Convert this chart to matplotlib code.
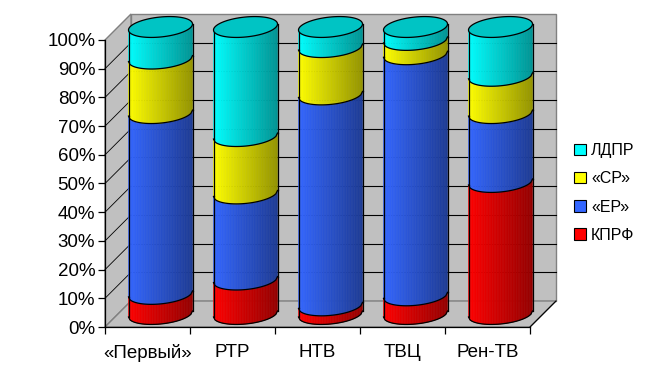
import numpy as np
import matplotlib
matplotlib.use('Agg')
import matplotlib.pyplot as plt
from matplotlib.collections import PolyCollection
from matplotlib.patches import Polygon, Patch
from matplotlib.colors import to_rgb

plt.rcParams['font.family'] = ['Liberation Sans', 'DejaVu Sans']

# data (shares in %)
channels = ['«Первый»', 'РТР', 'НТВ', 'ТВЦ', 'Рен-ТВ']
kprf = [7, 12, 3, 6.5, 46]
er = [63, 30, 73.5, 84, 24]
sr = [19, 20, 16.5, 5, 13]
ldpr = [11, 38, 7, 4.5, 17]

series_names = ['КПРФ', '«ЕР»', '«СР»', 'ЛДПР']
series_colors = ['#FF0000', '#3366FF', '#FFFF00', '#00FFFF']
cap_color = '#00C4C4'
yticks = list(range(0, 101, 10))

# geometry of the fake 3D box (data units)
DX = 26 / 85.0      # depth offset in category units
DY = 26 / 2.87      # depth offset in percent units
A = 32 / 85.0       # cylinder half width
B = 10 / 2.87       # ellipse half height
S = 3 / 2.87        # ellipse tilt
NSTRIP = 40

fig = plt.figure(figsize=(6.5, 3.82), dpi=100)
ax = fig.add_axes([105 / 650, 55 / 382, 425 / 650, 287 / 382])
ax.set_xlim(-0.5, 4.5)
ax.set_ylim(0, 100)
ax.patch.set_visible(False)

x0, x1 = -0.5, len(channels) - 0.5
wall = '#C0C0C0'
edge = '#808080'

# walls and floor
ax.add_patch(Polygon([(x0 + DX, DY), (x1 + DX, DY), (x1 + DX, 100 + DY), (x0 + DX, 100 + DY)],
                     closed=True, fc=wall, ec=edge, lw=1, clip_on=False, zorder=0.5))
ax.add_patch(Polygon([(x0, 0), (x0 + DX, DY), (x0 + DX, 100 + DY), (x0, 100)],
                     closed=True, fc=wall, ec=edge, lw=1, clip_on=False, zorder=0.5))
ax.add_patch(Polygon([(x0, 0), (x1, 0), (x1 + DX, DY), (x0 + DX, DY)],
                     closed=True, fc=wall, ec=edge, lw=1, clip_on=False, zorder=0.5))
ax.plot([x1, x1 + DX], [0, DY], color='black', lw=0.8, clip_on=False, zorder=0.7)

# gridlines on back wall + diagonals on side wall
for v in yticks[1:-1]:
    ax.plot([x0 + DX, x1 + DX], [v + DY, v + DY], color='black', lw=0.8, clip_on=False, zorder=0.6)
    ax.plot([x0, x0 + DX], [v, v + DY], color='black', lw=0.6, clip_on=False, zorder=0.6)


def front_arc(cx, cy, xs):
    u = (xs - cx) / A
    return cy - B * np.sqrt(np.clip(1 - u ** 2, 0, 1)) + S * u


def shade(color, f):
    r, g, b = to_rgb(color)
    return (r * f, g * f, b * f)


values = np.array([kprf, er, sr, ldpr], dtype=float)
values = values / values.sum(axis=0) * 100

for i in range(len(channels)):
    cx = i + DX / 2
    base = DY / 2
    bottom = 0.0
    xs = np.linspace(cx - A, cx + A, NSTRIP + 1)
    for j in range(len(series_names)):
        top = bottom + values[j, i]
        lo = front_arc(cx, base + bottom, xs)
        hi = front_arc(cx, base + top, xs)
        polys, cols = [], []
        for k in range(NSTRIP):
            polys.append([(xs[k], lo[k]), (xs[k + 1], lo[k + 1]), (xs[k + 1], hi[k + 1]), (xs[k], hi[k])])
            f = 1.0 - 0.42 * (k + 0.5) / NSTRIP
            cols.append(shade(series_colors[j], f))
        pc = PolyCollection(polys, facecolors=cols, edgecolors=cols, linewidths=0.4,
                            clip_on=False, zorder=2 + i)
        ax.add_collection(pc)
        ax.plot(xs, lo, color='black', lw=0.9, clip_on=False, zorder=2.5 + i)
        ax.plot([cx - A, cx - A], [lo[0], hi[0]], color='black', lw=0.9, clip_on=False, zorder=2.5 + i)
        ax.plot([cx + A, cx + A], [lo[-1], hi[-1]], color='black', lw=0.9, clip_on=False, zorder=2.5 + i)
        bottom = top
    # top cap
    t = np.linspace(0, 2 * np.pi, 120)
    ex = cx + A * np.cos(t)
    ey = base + bottom + B * np.sin(t) + S * np.cos(t)
    ax.add_patch(Polygon(np.column_stack([ex, ey]), closed=True, fc=cap_color, ec='black',
                         lw=0.9, clip_on=False, zorder=2.6 + i))

# axes styling
for side in ['top', 'right']:
    ax.spines[side].set_visible(False)
for side in ['left', 'bottom']:
    ax.spines[side].set_color('black')
    ax.spines[side].set_linewidth(0.9)
    ax.spines[side].set_zorder(1)

ax.set_yticks(yticks)
ax.set_yticklabels([f'{v}%' for v in yticks])
ax.tick_params(axis='y', direction='out', length=5, width=0.9, pad=2, labelsize=13.5)
ax.set_xticks(np.arange(-0.5, len(channels), 1.0))
ax.set_xticklabels([])
ax.set_xticks(np.arange(len(channels)), minor=True)
ax.set_xticklabels(channels, minor=True)
ax.tick_params(axis='x', which='major', direction='out', length=5, width=0.9)
ax.tick_params(axis='x', which='minor', length=0, pad=12, labelsize=13.5)

handles = [Patch(facecolor=series_colors[j], edgecolor='black', linewidth=0.8, label=series_names[j])
           for j in range(len(series_names))][::-1]
fig.legend(handles=handles, loc='center left', bbox_to_anchor=(568 / 650, 1 - 193 / 382),
           frameon=False, fontsize=11.5, handlelength=0.7, handleheight=0.7,
           handletextpad=0.35, labelspacing=0.82, borderaxespad=0)

fig.savefig('out.png', dpi=100)
